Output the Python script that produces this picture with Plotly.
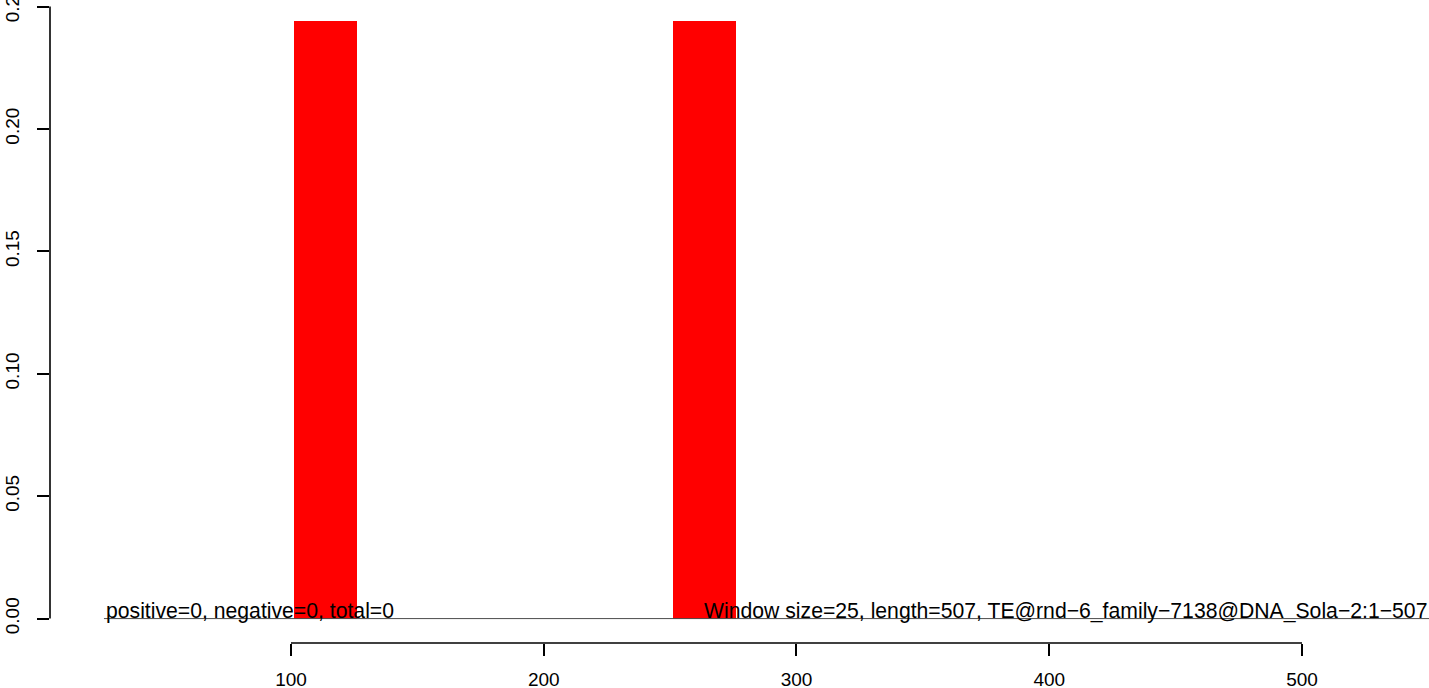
import plotly.graph_objects as go

# Data
bar_left = [101, 251]
window_size = 25
bar_values = [0.2441, 0.2441]
baseline_x = [26, 560]
baseline_y = [0, 0]
x_ticks = [100, 200, 300, 400, 500]
y_ticks = [0.00, 0.05, 0.10, 0.15, 0.20, 0.25]
y_ticktext = ["0.00", "0.05", "0.10", "0.15", "0.20", "0.25"]
left_label = "positive=0, negative=0, total=0"
right_label = "Window size=25, length=507, TE@rnd\u22126_family\u22127138@DNA_Sola\u22122:1\u2212507"

FONT = "Liberation Sans, Arial, sans-serif"
FS = 19
FS_TXT = 21.2

fig = go.Figure()
fig.add_trace(go.Scatter(x=baseline_x, y=baseline_y, mode="lines",
                         line=dict(color="#4d4d4d", width=1), hoverinfo="skip",
                         showlegend=False))
fig.add_trace(go.Bar(x=[b + window_size / 2 for b in bar_left], y=bar_values,
                     width=[window_size] * len(bar_left),
                     marker=dict(color="#FF0000", line=dict(width=0)),
                     showlegend=False))

fig.add_annotation(x=baseline_x[0], y=0, xref="x", yref="y", text=left_label,
                   showarrow=False, xanchor="left", yanchor="bottom", yshift=-6,
                   font=dict(family=FONT, size=FS_TXT, color="black"))
fig.add_annotation(x=1, y=0, xref="paper", yref="y", text=right_label,
                   showarrow=False, xanchor="right", yanchor="bottom", yshift=-6,
                   font=dict(family=FONT, size=FS_TXT, color="black"))

# R-style axis lines
fig.add_shape(type="line", xref="x", yref="paper", x0=x_ticks[0], x1=x_ticks[-1],
              y0=0, y1=0, line=dict(color="black", width=1.6))
fig.add_shape(type="line", xref="paper", yref="y", x0=0, x1=0,
              y0=y_ticks[0], y1=y_ticks[-1], line=dict(color="black", width=1.6))

fig.update_layout(
    width=1429, height=688,
    margin=dict(l=50, r=0, t=0, b=45),
    plot_bgcolor="white", paper_bgcolor="white",
    bargap=0,
    xaxis=dict(range=[4.65, 550.25], tickvals=x_ticks, ticks="outside", ticklen=12,
               tickwidth=1.6, tickcolor="black", showgrid=False, zeroline=False,
               showline=False, ticklabelstandoff=7, automargin=False,
               ticklabeloverflow="allow",
               tickfont=dict(family=FONT, size=FS, color="black")),
    yaxis=dict(range=[-0.00997, 0.2527], tickvals=y_ticks, ticktext=y_ticktext,
               ticks="outside", ticklen=12, tickwidth=1.6, tickcolor="black",
               showgrid=False, zeroline=False, showline=False, tickangle=-90,
               ticklabelstandoff=10, automargin=False, ticklabeloverflow="allow",
               tickfont=dict(family=FONT, size=FS, color="black")),
)

fig.write_html("out.html", config={"displayModeBar": False},
               post_script="document.body.style.margin='0';document.body.style.overflow='hidden';")
